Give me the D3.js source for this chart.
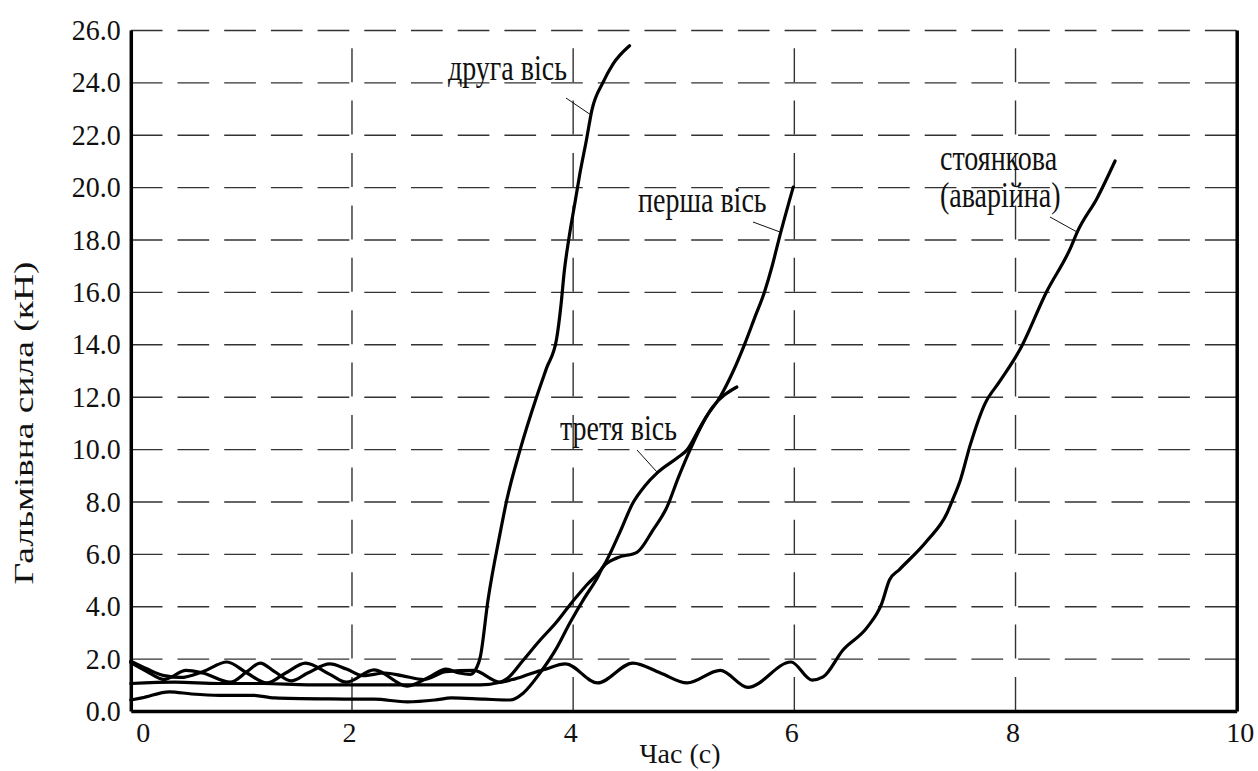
<!DOCTYPE html>
<html><head><meta charset="utf-8">
<script src="https://cdn.jsdelivr.net/npm/d3@7"></script>
<style>
html,body{margin:0;padding:0;background:#fff;}
svg{display:block;}
svg text{font-family:"Liberation Serif","Times New Roman",serif !important;fill:#111;}
</style></head>
<body>
<svg id="chart" width="1258" height="771"></svg>
<script>
// ---- data ----
const xTicks = [0, 2, 4, 6, 8, 10];
const yTicks = [0, 2, 4, 6, 8, 10, 12, 14, 16, 18, 20, 22, 24, 26];
const xTitle = "Час (с)";
const yTitle = "Гальмівна сила (кН)";

const axle1Name = "перша вісь";
const axle1Time  = [0,0.1,0.35,0.55,0.8,1.1,1.3,1.8,2.2,2.5,2.75,2.9,3.2,3.43,3.55,3.7,3.85,3.97,4.1,4.22,4.27,4.4,4.58,4.72,4.85,4.95,5.06,5.2,5.33,5.45,5.55,5.64,5.73,5.8,5.86,5.99];
const axle1Force = [0.42,0.5,0.73,0.65,0.6,0.6,0.5,0.46,0.45,0.35,0.42,0.5,0.45,0.42,0.69,1.45,2.4,3.36,4.3,5.1,5.5,5.85,6.07,6.9,7.8,8.9,10.0,11.2,12.0,13.0,14.0,15.0,16.0,17.0,18.0,20.0];

const axle2Name = "друга вісь";
const axle2Time  = [0,0.15,0.3,0.45,0.65,0.87,1.05,1.23,1.4,1.58,1.8,1.95,2.2,2.5,2.7,2.85,2.97,3.07,3.13,3.16,3.23,3.34,3.4,3.52,3.67,3.76,3.85,3.89,3.92,3.96,4.02,4.06,4.12,4.17,4.27,4.36,4.51];
const axle2Force = [1.9,1.6,1.35,1.28,1.5,1.87,1.45,1.07,1.45,1.83,1.4,1.1,1.57,0.95,1.3,1.6,1.45,1.4,1.68,2.06,4.24,6.8,8.06,9.97,12.0,13.1,14.2,15.5,16.8,18.0,19.5,20.5,21.8,22.95,24.0,24.7,25.4];

const axle3Name = "третя вісь";
const axle3Time  = [0,0.4,0.8,1.2,1.6,2.0,2.4,2.8,3.16,3.34,3.41,3.55,3.7,3.85,3.97,4.12,4.27,4.42,4.54,4.65,4.76,4.94,5.03,5.15,5.26,5.48];
const axle3Force = [1.05,1.1,1.05,1.05,1.0,1.0,1.0,1.0,1.0,1.1,1.26,1.95,2.7,3.4,4.05,4.8,5.5,6.8,7.94,8.6,9.09,9.66,9.97,10.85,11.6,12.37];

const parkName = ["стоянкова", "(аварійна)"];
const parkTime  = [0,0.15,0.3,0.5,0.65,0.9,1.05,1.17,1.3,1.45,1.6,1.8,1.95,2.1,2.3,2.45,2.65,2.85,3.1,3.34,3.45,3.6,3.75,3.93,4.22,4.54,4.79,5.03,5.33,5.58,5.97,6.16,6.26,6.44,6.66,6.79,6.86,6.95,7.2,7.38,7.43,7.5,7.59,7.72,7.86,8.04,8.28,8.5,8.56,8.74,8.9];
const parkForce = [1.85,1.5,1.2,1.55,1.45,1.1,1.5,1.83,1.5,1.15,1.45,1.8,1.6,1.35,1.45,1.35,1.2,1.5,1.55,1.1,1.2,1.4,1.6,1.8,1.07,1.83,1.45,1.07,1.55,0.9,1.87,1.18,1.3,2.33,3.2,4.1,5.0,5.4,6.5,7.55,8.05,8.8,10.15,11.7,12.6,13.8,16.0,17.7,18.3,19.6,21.0];

// ---- layout ----
const FONT = "Liberation Serif";
const svg = d3.select("#chart");
const L = 130.8, R = 1236.7, T = 30, B = 711;
const x = d3.scaleLinear().domain([0, 10]).range([L, R]);
const y = d3.scaleLinear().domain([0, 26]).range([B, T]);

svg.append("rect").attr("width", 1258).attr("height", 771).attr("fill", "#fff");

// horizontal grid
const gy = svg.append("g").attr("transform", `translate(${L},0)`)
  .call(d3.axisLeft(y).tickValues(yTicks.filter(d => d > 0)).tickSize(-(R - L)).tickFormat(""));
gy.select(".domain").remove();
gy.selectAll("line").attr("stroke", "#333").attr("stroke-width", 1.4).attr("stroke-dasharray", "31.7,15");

// vertical grid (drawn from bottom upward)
const vg = svg.append("g");
vg.selectAll("line").data(xTicks.filter(d => d > 0 && d < 10)).join("line")
  .attr("x1", d => x(d)).attr("x2", d => x(d)).attr("y1", B).attr("y2", T)
  .attr("stroke", "#333").attr("stroke-width", 1.4).attr("stroke-dasharray", "34,18.4");

// axes
const ax = svg.append("g").attr("transform", `translate(0,${B})`)
  .call(d3.axisBottom(x).tickValues(xTicks).tickSize(0).tickPadding(11).tickFormat(d3.format("d")));
ax.attr("font-family", FONT);
ax.select(".domain").attr("stroke", "#000").attr("stroke-width", 3.5);
ax.selectAll("text").attr("font-size", 28).attr("font-family", FONT)
  .attr("dx", d => d === 0 ? 12 : (d === 10 ? 3 : -3));

const ay = svg.append("g").attr("transform", `translate(${L},0)`)
  .call(d3.axisLeft(y).tickValues(yTicks).tickSize(0).tickPadding(10).tickFormat(d3.format(".1f")));
ay.attr("font-family", FONT);
ay.select(".domain").attr("stroke", "#000").attr("stroke-width", 3.5);
ay.selectAll("text").attr("font-size", 28).attr("font-family", FONT)
  .attr("transform", "scale(1,1.07)");

// right border
const ar = svg.append("g").attr("transform", `translate(${R},0)`)
  .call(d3.axisRight(y).tickValues([]).tickSize(0).tickFormat(""));
ar.select(".domain").attr("stroke", "#000").attr("stroke-width", 3.5);

// titles
svg.append("text").attr("x", 680).attr("y", 763).attr("text-anchor", "middle")
  .attr("font-family", FONT).attr("font-size", 28).text(xTitle);
svg.append("text").attr("transform", "translate(33,423) rotate(-90)").attr("text-anchor", "middle")
  .attr("font-family", FONT).attr("font-size", 28)
  .attr("textLength", 323).attr("lengthAdjust", "spacingAndGlyphs").text(yTitle);

// curves
const line = d3.line().x(d => x(d[0])).y(d => y(d[1])).curve(d3.curveMonotoneX);
const series = [
  d3.zip(axle1Time, axle1Force),
  d3.zip(axle2Time, axle2Force),
  d3.zip(axle3Time, axle3Force),
  d3.zip(parkTime, parkForce)
];
svg.append("g").selectAll("path").data(series).join("path")
  .attr("d", line).attr("fill", "none").attr("stroke", "#000")
  .attr("stroke-width", 3.2).attr("stroke-linejoin", "round").attr("stroke-linecap", "round");

// annotations (baseline-anchored, slightly tall glyphs as in the source)
const ann = svg.append("g").attr("font-size", 28).attr("font-family", FONT);
const labels = [
  [448, 80, axle2Name],
  [638, 212, axle1Name],
  [560, 440, axle3Name],
  [940, 170, parkName[0]],
  [940, 207, parkName[1]]
];
ann.selectAll("text").data(labels).join("text")
  .attr("transform", d => `translate(${d[0]},${d[1]}) scale(1,1.25)`)
  .attr("font-family", FONT)
  .text(d => d[2]);

const leaders = [[566,98,591,115],[753,222,780,232],[637,450,657,472],[1050,217,1077,232]];
svg.append("g").selectAll("line").data(leaders).join("line")
  .attr("x1", d => d[0]).attr("y1", d => d[1]).attr("x2", d => d[2]).attr("y2", d => d[3])
  .attr("stroke", "#111").attr("stroke-width", 1);
</script>
</body></html>
